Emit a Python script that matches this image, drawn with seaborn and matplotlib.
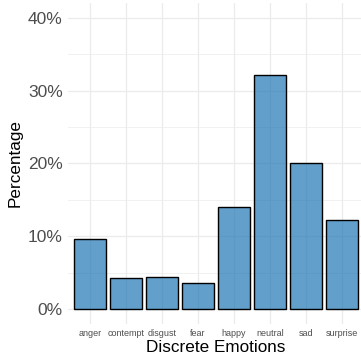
import pandas as pd
import matplotlib
matplotlib.use("Agg")
import matplotlib.pyplot as plt
from matplotlib.colors import to_rgba
from matplotlib.ticker import FixedLocator, FuncFormatter
import seaborn as sns

emotions = ['anger', 'contempt', 'disgust', 'fear', 'happy', 'neutral', 'sad', 'surprise']
percentages = [9.6, 4.3, 4.4, 3.6, 14.0, 32.2, 20.0, 12.2]

df = pd.DataFrame({'emotion': emotions, 'pct': percentages})

sns.set_style('white')
plt.rcParams['font.family'] = ['Liberation Sans', 'DejaVu Sans']

fig = plt.figure(figsize=(3.61, 3.58), dpi=100)
ax = fig.add_axes([0.1895, 0.0961, 0.8177, 0.8944])

sns.barplot(data=df, x='emotion', y='pct', color='#1f77b4',
            edgecolor='black', linewidth=1.0, width=0.9, saturation=1, ax=ax, zorder=3)

# translucent fill, solid black outline
for bar in ax.patches:
    bar.set_alpha(None)
    bar.set_facecolor(to_rgba('#1f77b4', 0.7))
    bar.set_edgecolor('black')

ax.set_xlim(-0.6, 7.6)
ax.set_ylim(-2, 42)

ax.yaxis.set_major_locator(FixedLocator([0, 10, 20, 30, 40]))
ax.yaxis.set_minor_locator(FixedLocator([5, 15, 25, 35]))
ax.yaxis.set_major_formatter(FuncFormatter(lambda v, p: f'{v:.0f}%'))

ax.grid(True, which='major', color='#EBEBEB', linewidth=0.9, zorder=0)
ax.grid(True, which='minor', axis='y', color='#EBEBEB', linewidth=0.5, zorder=0)
ax.set_axisbelow(True)

for s in ax.spines.values():
    s.set_visible(False)

ax.tick_params(axis='y', which='both', length=0, labelsize=12.5, labelcolor='#4D4D4D', pad=4)
ax.tick_params(axis='x', which='both', length=0, labelsize=6.5, labelcolor='#4D4D4D', pad=4)

ax.set_xlabel('Discrete Emotions', fontsize=12.3, color='black', labelpad=1)
ax.set_ylabel('Percentage', fontsize=12.3, color='black', labelpad=4)

fig.savefig('out.png', dpi=100)
